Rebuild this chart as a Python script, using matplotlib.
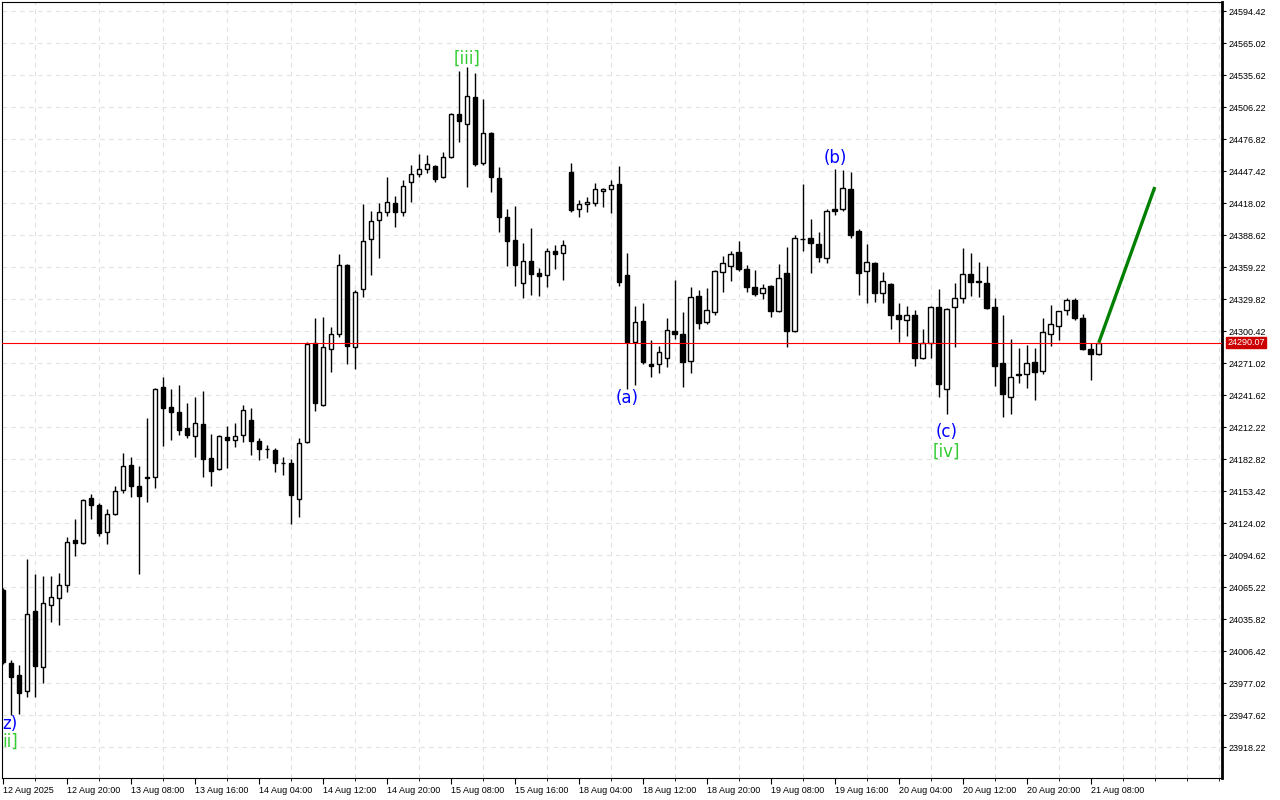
import numpy as np
import matplotlib
matplotlib.use('Agg')
import matplotlib.pyplot as plt
from matplotlib.ticker import FixedLocator, MultipleLocator

# Datos OHLC (velas de 1 hora, indice = posicion de la vela)
opens = [24063, 23996, 23985, 23970, 24043, 23992, 24049, 24055, 24067, 24109,
         24106, 24147, 24141, 24116, 24133, 24155, 24178, 24158, 24167, 24167,
         24249, 24231, 24226, 24212, 24204, 24215, 24184, 24174, 24203, 24201,
         24205, 24219, 24200, 24192, 24191, 24179, 24179, 24146, 24199, 24290,
         24233, 24284, 24298, 24361, 24286, 24339, 24385, 24403, 24410, 24418,
         24410, 24438, 24445, 24450, 24452, 24442, 24461, 24500, 24491, 24516,
         24455, 24483, 24441, 24405, 24384, 24345, 24365, 24354, 24352, 24374,
         24372, 24447, 24413, 24417, 24418, 24429, 24431, 24436, 24352, 24291,
         24310, 24270, 24270, 24276, 24301, 24298, 24273, 24333, 24309, 24318,
         24355, 24360, 24373, 24358, 24341, 24336, 24342, 24319, 24354, 24301,
         24385, 24386, 24381, 24368, 24413, 24413, 24431, 24393, 24356, 24363,
         24336, 24344, 24315, 24311, 24315, 24276, 24290, 24323, 24247, 24323,
         24331, 24353, 24347, 24345, 24323, 24271, 24240, 24261, 24261, 24272,
         24264, 24298, 24305, 24320, 24329, 24313, 24284, 24280]
highs = [24065, 23998, 23994, 24091, 24077, 24076, 24076, 24078, 24111, 24128,
         24146, 24151, 24143, 24137, 24158, 24189, 24185, 24177, 24221, 24248,
         24258, 24247, 24251, 24235, 24240, 24246, 24206, 24205, 24213, 24216,
         24233, 24230, 24202, 24196, 24193, 24185, 24183, 24202, 24291, 24313,
         24314, 24304, 24371, 24362, 24338, 24417, 24411, 24418, 24442, 24425,
         24439, 24453, 24463, 24462, 24453, 24465, 24501, 24540, 24543, 24538,
         24514, 24484, 24451, 24413, 24416, 24382, 24395, 24359, 24377, 24380,
         24384, 24455, 24421, 24424, 24437, 24432, 24439, 24452, 24372, 24324,
         24326, 24292, 24287, 24313, 24348, 24318, 24341, 24338, 24340, 24357,
         24370, 24374, 24383, 24361, 24357, 24344, 24343, 24362, 24378, 24389,
         24436, 24404, 24392, 24413, 24450, 24449, 24447, 24394, 24381, 24364,
         24355, 24345, 24326, 24324, 24320, 24303, 24324, 24339, 24322, 24345,
         24377, 24372, 24364, 24360, 24331, 24315, 24293, 24285, 24288, 24285,
         24313, 24325, 24319, 24331, 24331, 24316, 24290, 24290.5]
lows = [23995, 23948, 23949, 23964, 23964, 23977, 24033, 24031, 24061, 24094,
        24105, 24128, 24112, 24105, 24132, 24152, 24148, 24077, 24144, 24156,
        24195, 24201, 24205, 24202, 24185, 24167, 24158, 24173, 24175, 24194,
        24199, 24187, 24182, 24184, 24171, 24168, 24123, 24130, 24198, 24227,
        24232, 24263, 24295, 24270, 24266, 24332, 24352, 24368, 24406, 24396,
        24406, 24419, 24442, 24446, 24438, 24441, 24460, 24474, 24433, 24452,
        24453, 24428, 24392, 24360, 24342, 24331, 24334, 24333, 24341, 24358,
        24348, 24410, 24405, 24410, 24416, 24415, 24409, 24342, 24247, 24251,
        24270, 24258, 24262, 24268, 24293, 24249, 24262, 24303, 24307, 24315,
        24337, 24347, 24356, 24337, 24333, 24330, 24314, 24318, 24286, 24300,
        24374, 24354, 24364, 24363, 24407, 24411, 24386, 24334, 24326, 24327,
        24326, 24303, 24291, 24296, 24269, 24275, 24276, 24240, 24224, 24286,
        24326, 24333, 24332, 24321, 24250, 24222, 24224, 24253, 24248, 24237,
        24261, 24287, 24292, 24315, 24311, 24283, 24256, 24279]
closes = [23997, 23983, 23968, 24041, 23993, 24051, 24056, 24067, 24107, 24106,
          24145, 24141, 24115, 24133, 24154, 24177, 24158, 24149, 24166, 24247,
          24230, 24226, 24210, 24205, 24216, 24183, 24172, 24204, 24201, 24204,
          24228, 24200, 24192, 24192, 24179, 24179, 24150, 24198, 24289, 24235,
          24286, 24298, 24361, 24287, 24337, 24383, 24402, 24410, 24419, 24410,
          24434, 24445, 24450, 24454, 24440, 24461, 24500, 24494, 24517, 24454,
          24483, 24442, 24405, 24383, 24361, 24365, 24353, 24351, 24374, 24371,
          24380, 24412, 24417, 24419, 24431, 24431, 24435, 24346, 24291, 24309,
          24272, 24269, 24281, 24302, 24298, 24272, 24332, 24308, 24320, 24356,
          24363, 24371, 24358, 24341, 24335, 24340, 24319, 24349, 24301, 24386,
          24385, 24382, 24369, 24411, 24411, 24432, 24389, 24354, 24364, 24336,
          24347, 24315, 24312, 24315, 24276, 24290, 24323, 24252, 24321, 24331,
          24353, 24346, 24346, 24322, 24269, 24243, 24258, 24260, 24271, 24263,
          24300, 24307, 24319, 24329, 24313, 24284, 24280, 24290.07]

precio_actual = 24290.07

# Proyeccion (linea verde)
proyeccion_x = [137, 144]
proyeccion_y = [24290.07, 24433]

# Etiquetas de ondas: texto, indice de vela, precio, color, alineacion
etiquetas = [
    ('z)', -0.1, 23940, 'blue', 'left'),
    ('ii]', -0.1, 23923, '#33cc33', 'left'),
    ('[iii]', 58, 24551, '#33cc33', 'center'),
    ('(a)', 78, 24239, 'blue', 'center'),
    ('(b)', 104, 24460, 'blue', 'center'),
    ('(c)', 118, 24208, 'blue', 'center'),
    ('[iv]', 118, 24190, '#33cc33', 'center'),
]

fechas = ['12 Aug 2025', '12 Aug 20:00', '13 Aug 08:00', '13 Aug 16:00',
          '14 Aug 04:00', '14 Aug 12:00', '14 Aug 20:00', '15 Aug 08:00',
          '15 Aug 16:00', '18 Aug 04:00', '18 Aug 12:00', '18 Aug 20:00',
          '19 Aug 08:00', '19 Aug 16:00', '20 Aug 04:00', '20 Aug 12:00',
          '20 Aug 20:00', '21 Aug 08:00']

ticks_precio = [23918.22 + 29.4 * k for k in range(24)]

plt.rcParams['font.family'] = ['Liberation Sans', 'DejaVu Sans']

fig = plt.figure(figsize=(12.8, 8), dpi=100)
ax = fig.add_axes([1.5 / 1280, 22 / 800, 1220.5 / 1280, 776 / 800])

o = np.array(opens, dtype=float)
h = np.array(highs, dtype=float)
l = np.array(lows, dtype=float)
c = np.array(closes, dtype=float)
x = np.arange(len(o))

# Mechas
ax.vlines(x, l, h, color='black', linewidth=1, zorder=3)

# Cuerpos
alcista = c >= o
ax.bar(x[alcista], c[alcista] - o[alcista], bottom=o[alcista], width=0.6,
       color='white', edgecolor='black', linewidth=1, zorder=4)
ax.bar(x[~alcista], o[~alcista] - c[~alcista], bottom=c[~alcista], width=0.6,
       color='black', edgecolor='black', linewidth=1, zorder=4)

# Linea de precio actual
ax.axhline(precio_actual, color='red', linewidth=0.8, zorder=5)

# Proyeccion
ax.plot(proyeccion_x, proyeccion_y, color='#008000', linewidth=2.4, zorder=6,
        solid_capstyle='butt')

for texto, xi, yi, col, alin in etiquetas:
    ax.text(xi, yi, texto, color=col, fontsize=12, ha=alin, va='center',
            family=['DejaVu Sans'], zorder=7)

ax.set_xlim(-0.19, 152.4)
ax.set_ylim(23890.0, 24603.0)

# Ejes
ax.yaxis.tick_right()
ax.set_yticks(ticks_precio)
ax.set_yticklabels(['%.2f' % t for t in ticks_precio])
ax.tick_params(axis='y', length=3, width=0.8, pad=1.5, labelsize=6.5,
               direction='out')

ax.xaxis.set_major_locator(FixedLocator(np.arange(0, 137, 8)))
ax.set_xticklabels(fechas)
ax.xaxis.set_minor_locator(MultipleLocator(4))
ax.tick_params(axis='x', which='major', length=4, width=0.8, pad=2,
               labelsize=6.5)
ax.tick_params(axis='x', which='minor', length=2, width=0.6)
for lab in ax.get_xticklabels():
    lab.set_horizontalalignment('left')

ax.grid(True, which='minor', axis='x', color='#e3e3e3', linestyle=(0, (4, 4)),
        linewidth=0.8)
ax.grid(True, which='major', axis='y', color='#e3e3e3', linestyle=(0, (4, 4)),
        linewidth=0.8)
ax.set_axisbelow(True)

for lado in ['left', 'top', 'bottom']:
    ax.spines[lado].set_linewidth(0.8)
ax.spines['right'].set_linewidth(2)

# Etiqueta roja del precio actual
ax.annotate('%.2f' % precio_actual, xy=(1, precio_actual),
            xycoords=('axes fraction', 'data'), xytext=(4, 0),
            textcoords='offset points', va='center', ha='left', fontsize=6.5,
            color='white', zorder=10, annotation_clip=False,
            bbox=dict(boxstyle='square,pad=0.15', facecolor='#cc0000',
                      edgecolor='#cc0000'))

fig.savefig('out.png', dpi=100, facecolor='white')
